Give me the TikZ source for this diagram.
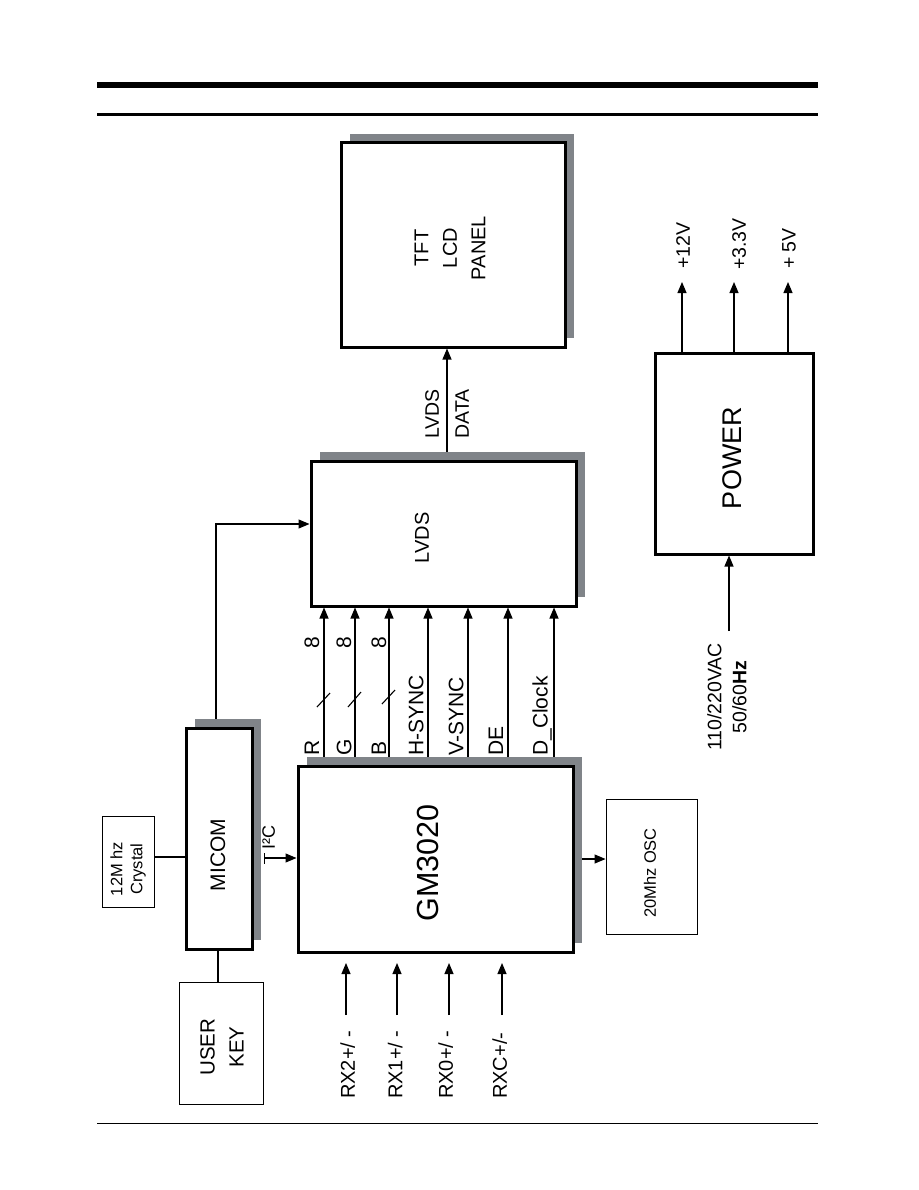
\documentclass[tikz,border=0pt]{standalone}
\usepackage{fontspec}
\setmainfont{Liberation Sans}
\usetikzlibrary{arrows.meta,shadows}
\definecolor{shgray}{RGB}{128,132,137}
\pgfdeclarelayer{conn}
\pgfsetlayers{conn,main}
\begin{document}
\begin{tikzpicture}[x=1pt,y=-1pt,
  blk/.style={draw, line width=3pt, fill=white, inner sep=0pt,
    general shadow={fill=shgray, shadow xshift=9pt, shadow yshift=9pt}},
  pwr/.style={draw, line width=3pt, fill=white, inner sep=0pt},
  box/.style={draw, line width=0.9pt, fill=white, inner sep=0pt},
  lab/.style={rotate=90, inner sep=0pt, align=center},
  siglab/.style={rotate=90, inner sep=0pt, anchor=west, text depth=0pt, font=\fontsize{21}{24}\selectfont},
  arr/.style={-{Triangle[length=11pt,width=9pt]}, line width=1.1pt},
  wire/.style={line width=1.1pt}]
\useasboundingbox (0,0) rectangle (918,1190);

% page rules
\fill (97,82) rectangle (818,88.5);
\fill (97,113.5) rectangle (818,116.5);
\draw[line width=1pt] (97,1123) -- (818,1123);

% blocks
\node[blk, minimum width=224pt, minimum height=204pt] (tft) at (453,245) {};
\node[lab, font=\fontsize{20}{28.5}\selectfont] (tftt) at (450,248) {TFT\\LCD\\PANEL};
\node[blk, minimum width=265pt, minimum height=145pt] (lvds) at (443.5,533.5) {};
\node[lab, font=\fontsize{20}{24}\selectfont] (lvdst) at (422,538) {LVDS};
\node[blk, minimum width=66pt, minimum height=221pt] (micom) at (219,838.5) {};
\node[lab, font=\fontsize{21}{24}\selectfont] (micomt) at (218,855) {MICOM};
\node[blk, minimum width=275pt, minimum height=186pt] (gm) at (435.5,859) {};
\node[lab, font=\fontsize{30.5}{34}\selectfont] (gmt) at (428,863) {GM3020};
\node[pwr, minimum width=158pt, minimum height=201pt] (power) at (734,453.5) {};
\node[lab, font=\fontsize{27}{30}\selectfont] (powert) at (732,458) {POWER};
\node[box, minimum width=52pt, minimum height=91pt] (crystal) at (128,861.5) {};
\node[lab, font=\fontsize{16.5}{20}\selectfont] (crystalt) at (128,869) {12M hz\\Crystal};
\node[box, minimum width=84pt, minimum height=122pt] (userkey) at (221,1043) {};
\node[lab, font=\fontsize{20.5}{29}\selectfont] (userkeyt) at (222,1047) {USER\\KEY};
\node[box, minimum width=91pt, minimum height=135pt] (osc) at (651.5,866.5) {};
\node[lab, font=\fontsize{16.5}{20}\selectfont] (osct) at (650,873) {20Mhz OSC};

% connectors
\begin{pgfonlayer}{conn}
\draw[arr] (216,0 |- micom.north) |- (lvds.west |- 0,524);
\draw[arr] (447,0 |- lvds.north) -- (447,0 |- tft.south);
\foreach \x in {324,355,389,428,468,508,554}
  \draw[arr] (\x,0 |- gm.north) -- (\x,0 |- lvds.south);
\draw[wire] (crystal.east |- 0,857) -- (micom.west |- 0,857);
\draw[wire] (218,0 |- micom.south) -- (218,0 |- userkey.north);
\draw[wire, {Bar[width=11pt]}-{Triangle[length=11pt,width=9pt]}] ([xshift=10pt]micom.east |- 0,858) -- (gm.west |- 0,858);
\draw[arr] (gm.east |- 0,859) -- (osc.west |- 0,859);
\end{pgfonlayer}

% bus slashes
\draw[wire] (317,707) -- (330,693);
\draw[wire] (348,707) -- (361,692);
\draw[wire] (382,704) -- (395,690);

% signal labels
\node[siglab] (lr) at (312,756) {R};
\node[siglab] (lg) at (344,756) {G};
\node[siglab] (lb) at (379,756) {B};
\node[siglab] (lh) at (416,756) {H-SYNC};
\node[siglab] (lv) at (456,756) {V-SYNC};
\node[siglab] (lde) at (496,756) {DE};
\node[siglab] (ldc) at (540,756) {D\_Clock};
\node[lab, font=\fontsize{21}{24}\selectfont] (n8r) at (312,643) {8};
\node[lab, font=\fontsize{21}{24}\selectfont] (n8g) at (344,643) {8};
\node[lab, font=\fontsize{21}{24}\selectfont] (n8b) at (379,643) {8};
\node[lab, font=\fontsize{19.5}{30}\selectfont] (lvdsdata) at (447,414) {LVDS\\DATA};
\node[siglab, font=\fontsize{18}{20}\selectfont] (i2c) at (268.5,850) {I²C};

% power
\coordinate (v12) at (682,282);
\coordinate (v33) at (734,282);
\coordinate (v5) at (788,282);
\draw[arr] (682,0 |- power.north) -- (v12);
\draw[arr] (734,0 |- power.north) -- (v33);
\draw[arr] (788,0 |- power.north) -- (v5);
\node[siglab, font=\fontsize{19.5}{22}\selectfont] (l12) at (683,269) {+12V};
\node[siglab, font=\fontsize{19.5}{22}\selectfont] (l33) at (739,270) {+3.3V};
\node[siglab, font=\fontsize{19.5}{22}\selectfont] (l5) at (789,269) {+ 5V};
\coordinate (acin) at (729,631);
\draw[arr] (acin) -- (729,0 |- power.south);
\node[lab, font=\fontsize{19.5}{25}\selectfont] (acl) at (727,697) {110/220VAC\\50/60\textbf{Hz}};

% RX inputs
\foreach \x/\n in {346/a,397/b,449/c,502/d}{
  \coordinate (rxs\n) at (\x,1015);
  \coordinate (rxe\n) at (\x,963);
  \draw[arr] (rxs\n) -- (rxe\n);
}
\node[siglab, font=\fontsize{20}{24}\selectfont] (rx2) at (347.5,1099) {RX2+/ -};
\node[siglab, font=\fontsize{20}{24}\selectfont] (rx1) at (395,1099) {RX1+/ -};
\node[siglab, font=\fontsize{20}{24}\selectfont] (rx0) at (445.5,1099) {RX0+/ -};
\node[siglab, font=\fontsize{20}{24}\selectfont] (rxc) at (499.5,1099) {RXC+/-};
\end{tikzpicture}
\end{document}
